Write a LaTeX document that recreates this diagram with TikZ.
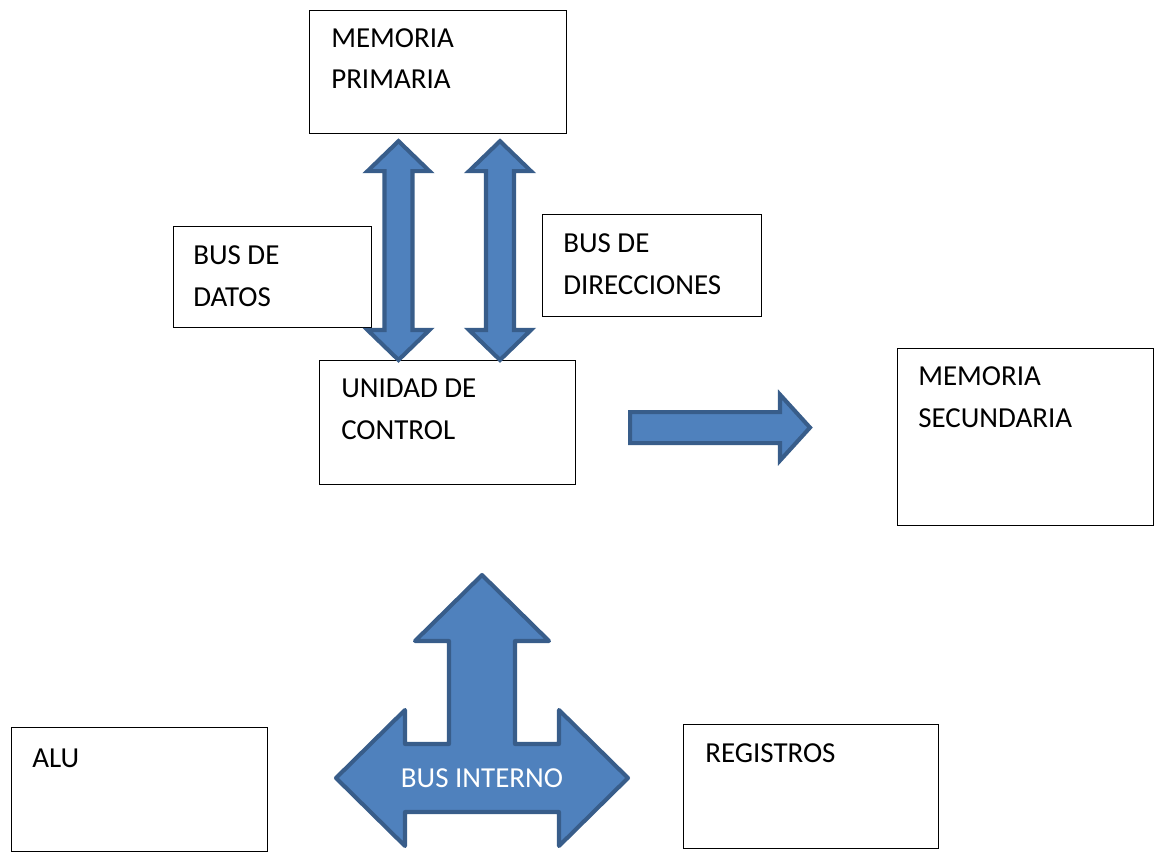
\documentclass[tikz,border=0pt]{standalone}
\usepackage{fontspec}
\setmainfont{Carlito}
\usetikzlibrary{calc}
\newcommand{\pix}{0.025cm}
\definecolor{relleno}{HTML}{4F81BD}
\definecolor{borde}{HTML}{385D8A}
\tikzset{
  caja/.style={draw, line width=0.8pt, inner sep=0pt, anchor=north west},
  texto/.style={anchor=base west, inner sep=0pt, align=left, font=\fontsize{20.6}{29.2}\selectfont},
  bloque/.style={fill=relleno, draw=borde, line width=2.9pt}
}
% doble flecha vertical entre dos puntas
\newcommand{\flechadoble}[2]{%
  \draw[bloque] (#1) -- ++(31,30) -- ++(-17,0) -- ($(#2)+(14,-30)$) -- ++(17,0) -- (#2)
    -- ++(-31,-30) -- ++(17,0) -- ($(#1)+(-14,30)$) -- ++(-17,0) -- cycle;}
\begin{document}
\begin{tikzpicture}[x=\pix, y=-\pix]
  \useasboundingbox (0,0) rectangle (1160,854);
  % cajas
  \node[caja, minimum width=257*\pix, minimum height=123*\pix] (mp) at (309,10) {};
  \node[caja, minimum width=198*\pix, minimum height=101*\pix] (bd) at (173,226) {};
  \node[caja, minimum width=219*\pix, minimum height=102*\pix] (bdir) at (542,214) {};
  \node[caja, minimum width=256*\pix, minimum height=124*\pix] (uc) at (319,360) {};
  \node[caja, minimum width=256*\pix, minimum height=177*\pix] (ms) at (897,348) {};
  \node[caja, minimum width=256*\pix, minimum height=124*\pix] (alu) at (11,727) {};
  \node[caja, minimum width=255*\pix, minimum height=124*\pix] (reg) at (683,724) {};
  % textos (base = ultima linea)
  \node[texto] (mpt) at ($(mp.north west)+(22,79)$) {MEMORIA\\PRIMARIA};
  \node[texto] (bdt) at ($(bd.north west)+(20,80)$) {BUS DE\\DATOS};
  \node[texto] (bdirt) at ($(bdir.north west)+(21,80)$) {BUS DE\\DIRECCIONES};
  \node[texto] (uct) at ($(uc.north west)+(22,79)$) {UNIDAD DE\\CONTROL};
  \node[texto] (mst) at ($(ms.north west)+(21,79)$) {MEMORIA\\SECUNDARIA};
  \node[texto] (alut) at ($(alu.north west)+(21,40)$) {ALU};
  \node[texto] (regt) at ($(reg.north west)+(22,38)$) {REGISTROS};
  % buses de datos y direcciones
  \coordinate (dat1) at ($(398.5,0 |- mp.south)+(0,7)$);
  \coordinate (dat2) at (398.5,0 |- uc.north);
  \coordinate (dir1) at ($(500,0 |- mp.south)+(0,7)$);
  \coordinate (dir2) at (500,0 |- uc.north);
  \flechadoble{dat1}{dat2}
  \flechadoble{dir1}{dir2}
  % hacia memoria secundaria
  \coordinate (sal1) at ($(uc.east)+(54,5)$);
  \coordinate (sal2) at ($(ms.west)+(-87,-9.5)$);
  \draw[bloque] ($(sal1)+(0,-15.5)$) -- ($(sal2)+(-30,-15.5)$) -- ++(0,-17.5) -- (sal2)
    -- ++(-30,33) -- ++(0,-17.5) -- ($(sal1)+(0,15.5)$) -- cycle;
  % bus interno
  \coordinate (bic) at (482,778);
  \draw[bloque, line join=round, shift={(bic)}] (0,-203) -- (67,-137) -- (33,-137) -- (33,-34)
    -- (77,-34) -- (77,-68) -- (146,0) -- (77,68) -- (77,34) -- (-77,34) -- (-77,68)
    -- (-146,0) -- (-77,-68) -- (-77,-34) -- (-33,-34) -- (-33,-137) -- (-67,-137) -- cycle;
  \node[font=\fontsize{20.6}{24}\selectfont, text=white, inner sep=0pt] (bi) at (bic) {BUS INTERNO};
\end{tikzpicture}
\end{document}
